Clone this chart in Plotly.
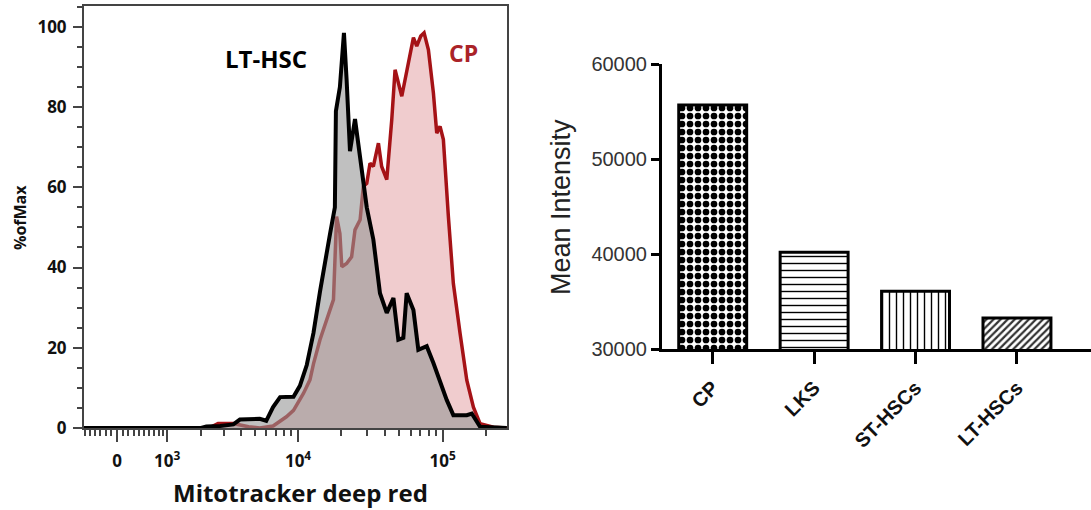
import numpy as np
import plotly.graph_objects as go

# ---------------- Data ----------------
# Histogram (Mitotracker deep red intensity vs % of max)
lt_hsc_intensity = [-620, 2000, 2200, 2800, 3500, 3900, 5400, 6000, 6700, 7500, 9300, 10300,
                    11500, 12800, 14200, 15400, 16700, 18000, 18300, 19500, 20800, 21700,
                    22900, 24800, 26900, 29900, 33200, 36900, 41100, 45700, 49400, 53500,
                    56400, 62800, 67900, 77600, 86300, 106600, 118500, 146700, 158800,
                    181200, 277200]
lt_hsc_pct = [0, 0, 0.4, 0.5, 0.9, 2.1, 2.3, 1.8, 5.2, 7.7, 7.8, 10.5,
              15.7, 23.7, 34, 42, 48.6, 55, 79, 85, 98.5, 86.8,
              69, 77, 67.6, 55, 47, 33.6, 28.7, 32.4, 22, 22.5,
              33.6, 29.4, 19.5, 20.4, 16.2, 7, 3.2, 3.2, 3.6,
              0.3, 0]

cp_intensity = [-620, 2300, 2700, 3500, 4500, 5400, 6700, 8300, 9300, 10900, 12100, 12800,
                14200, 15800, 17600, 18500, 19500, 20100, 21700, 23500, 24800, 26900,
                28300, 29900, 31500, 33200, 36000, 37900, 41100, 44500, 46900, 52200,
                58000, 62800, 66200, 70600, 74400, 79700, 86300, 91000, 95900, 101100,
                109500, 118500, 131800, 146700, 163000, 181200, 224000, 277200]
cp_pct = [0, 0, 1.1, 1.1, 0.3, 0, 0.5, 2.8, 4.4, 8.6, 12, 16,
          22, 27, 32, 52.7, 48.5, 40.2, 41, 42.7, 49.4, 51.9,
          60.2, 61, 66, 65.2, 71, 65.2, 61.9, 76.9, 89.3, 82.7,
          91, 97.3, 95.2, 97.7, 98.5, 94.3, 83.5, 73.5, 75.2, 71.9,
          52.7, 36, 23.6, 11.9, 5.2, 1.1, 0.2, 0]

x_major_ticks = [0, 1e3, 1e4, 1e5]
x_major_labels = ["0", "10<sup>3</sup>", "10<sup>4</sup>", "10<sup>5</sup>"]
x_minor_ticks = ([-600, -500, -400, -300, -200, -100, 100, 200, 300, 400, 500, 600, 700, 800, 900]
                 + [2e3, 3e3, 4e3, 5e3, 6e3, 7e3, 8e3, 9e3]
                 + [2e4, 3e4, 4e4, 5e4, 6e4, 7e4, 8e4, 9e4, 2e5])

# Bar chart
categories = ["CP", "LKS", "ST-HSCs", "LT-HSCs"]
mean_intensity = [55700, 40200, 36100, 33300]
bar_y_ticks = [30000, 40000, 50000, 60000]
bar_y_labels = ["30000", "40000", "50000", "60000"]

# ---------------- Helpers ----------------
W, H = 1091, 510
C = 1129.0


def biex(v):
    return np.arcsinh(np.asarray(v, dtype=float) / C)


def px(x):
    return x / W


def py(y):
    return 1 - y / H


fig = go.Figure()

# CP histogram (drawn first)
fig.add_trace(go.Scatter(
    x=biex(cp_intensity), y=cp_pct, mode="lines", fill="tozeroy",
    fillcolor="rgb(240,204,206)", line=dict(color="rgb(165,18,22)", width=3.5),
    xaxis="x", yaxis="y", hoverinfo="skip"))
# LT-HSC histogram
fig.add_trace(go.Scatter(
    x=biex(lt_hsc_intensity), y=lt_hsc_pct, mode="lines", fill="tozeroy",
    fillcolor="rgba(150,150,150,0.6)", line=dict(color="black", width=4),
    xaxis="x", yaxis="y", hoverinfo="skip"))

# Bars
fig.add_trace(go.Bar(
    x=categories, y=mean_intensity, width=0.67, xaxis="x2", yaxis="y2",
    marker=dict(
        color="white",
        line=dict(color="black", width=3),
        pattern=dict(
            shape=[".", "-", "|", "/"],
            fgcolor=["black", "black", "black", "#333"],
            bgcolor="white",
            size=[8, 7, 7, 5],
            solidity=[0.55, 0.2, 0.2, 0.45],
            fillmode="replace",
        ),
    ),
    hoverinfo="skip"))

left_font = dict(family="Open Sans", size=17, color="#111", weight="bold")
frame_col = "#444"

fig.update_layout(
    width=W, height=H, margin=dict(l=0, r=0, t=0, b=0, autoexpand=False),
    paper_bgcolor="white", plot_bgcolor="white", showlegend=False,
    xaxis=dict(
        domain=[px(84), px(507)], anchor="y", automargin=False,
        range=[float(biex(-620)), float(biex(278000))],
        showgrid=False, zeroline=False,
        showline=True, mirror=True, linecolor=frame_col, linewidth=2,
        tickmode="array", tickvals=biex(x_major_ticks).tolist(), ticktext=x_major_labels,
        ticks="outside", ticklen=12, tickwidth=2, tickcolor=frame_col,
        tickfont=left_font, ticklabelstandoff=5,
        minor=dict(tickmode="array", tickvals=biex(x_minor_ticks).tolist(),
                   ticks="outside", ticklen=6, tickwidth=1.5, tickcolor=frame_col,
                   showgrid=False),
    ),
    yaxis=dict(
        domain=[py(428), py(6)], anchor="x", automargin=False,
        range=[0, 105.2], showgrid=False, zeroline=False,
        showline=True, mirror=True, linecolor=frame_col, linewidth=2,
        tickmode="array", tickvals=[0, 20, 40, 60, 80, 100],
        ticks="outside", ticklen=9, tickwidth=2, tickcolor=frame_col,
        tickfont=left_font, ticklabelstandoff=3,
        minor=dict(dtick=5, ticks="outside", ticklen=5, tickwidth=1.5,
                   tickcolor=frame_col, showgrid=False),
    ),
    xaxis2=dict(
        domain=[px(662), 1.0], anchor="y2", automargin=False,
        range=[-0.5, 3.73], showgrid=False, zeroline=False,
        showline=True, linecolor="black", linewidth=3,
        ticks="outside", ticklen=12, tickwidth=3, tickcolor="black",
        tickangle=-45, ticklabelstandoff=4,
        tickfont=dict(family="Liberation Sans", size=20, color="#111", weight="bold"),
    ),
    yaxis2=dict(
        domain=[py(349.3), py(64)], anchor="x2", automargin=False,
        range=[30000, 60000], showgrid=False, zeroline=False,
        showline=True, linecolor="black", linewidth=3,
        tickmode="array", tickvals=bar_y_ticks, ticktext=bar_y_labels,
        ticks="outside", ticklen=8, tickwidth=3, tickcolor="black",
        tickfont=dict(family="Liberation Sans", size=20, color="#333"),
    ),
)

annotations = [
    dict(text="LT-HSC", x=px(266), y=py(58), font=dict(family="Open Sans", size=24, color="black", weight="bold")),
    dict(text="CP", x=px(463), y=py(53), font=dict(family="Open Sans", size=23, color="rgb(170,35,40)", weight="bold")),
    dict(text="%ofMax", x=px(20), y=py(218), textangle=-90,
         font=dict(family="Open Sans", size=16, color="#111", weight="bold")),
    dict(text="Mitotracker deep red", x=px(300), y=py(492),
         font=dict(family="Open Sans", size=24, color="#111", weight="bold")),
    dict(text="Mean Intensity", x=px(561), y=py(207), textangle=-90,
         font=dict(family="Liberation Sans", size=27, color="#222")),
]
for a in annotations:
    a.update(xref="paper", yref="paper", showarrow=False, xanchor="center", yanchor="middle")
fig.update_layout(annotations=annotations)

fig.write_html("out.html")
